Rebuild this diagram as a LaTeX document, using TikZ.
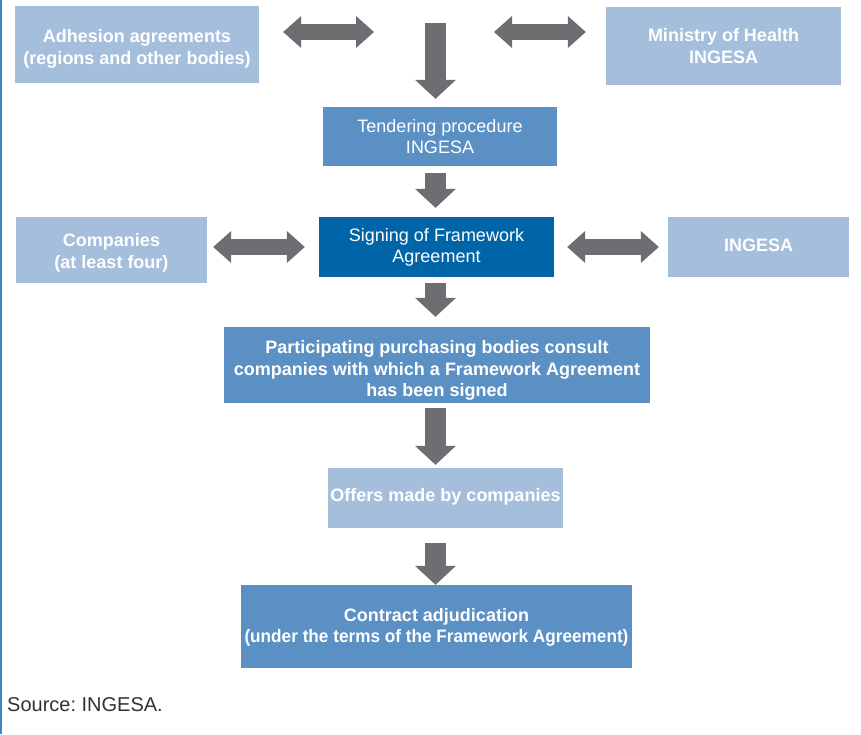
\documentclass[tikz,border=0pt]{standalone}
\usepackage{fontspec}
\setmainfont{Liberation Sans}
\usetikzlibrary{arrows.meta}
\definecolor{lightbox}{HTML}{A4BEDC}
\definecolor{midbox}{HTML}{5B90C4}
\definecolor{darkbox}{HTML}{0064A8}
\definecolor{arrowgray}{HTML}{6D6E71}
\definecolor{rulebl}{HTML}{3A86C8}
\definecolor{srcgray}{HTML}{333333}
\frenchspacing
\begin{document}
\begin{tikzpicture}[x=1pt,y=-1pt,
  box/.style={rectangle, inner sep=0pt},
  lightnode/.style={box, fill=lightbox},
  midnode/.style={box, fill=midbox},
  darknode/.style={box, fill=darkbox},
  boldtext/.style={inner sep=0pt, align=center, text=white,
    font=\fontsize{18}{21.5}\selectfont\bfseries},
  regtext/.style={inner sep=0pt, align=center, text=white,
    font=\fontsize{18}{21.5}\selectfont},
  varrow/.style={draw=arrowgray, line width=21pt,
    -{Triangle[width=41pt,length=19pt,line width=0pt]}},
  harrow/.style={draw=arrowgray, line width=16pt,
    {Triangle[width=32pt,length=18pt,line width=0pt]}-{Triangle[width=32pt,length=18pt,line width=0pt]}}
]
\useasboundingbox (0,0) rectangle (861,734);
\fill[white] (0,0) rectangle (861,734);
\draw[rulebl, line width=2pt] (1,0) -- (1,734);

% boxes, each with its caption centred inside
\node[lightnode, minimum width=244pt, minimum height=77pt,
  label={[boldtext, yshift=-4.5pt]center:{Adhesion agreements\\(regions and other bodies)}}]
  (adh) at (137,44.5) {};
\node[lightnode, minimum width=235pt, minimum height=78pt,
  label={[boldtext]center:{Ministry of Health\\INGESA}}]
  (min) at (723.5,46) {};
\node[midnode, minimum width=234pt, minimum height=59pt,
  label={[regtext]center:{Tendering procedure\\INGESA}}]
  (tend) at (440,136.5) {};
\node[darknode, minimum width=235pt, minimum height=60pt,
  label={[regtext, yshift=-0.5pt]center:{Signing of Framework\\Agreement}}]
  (sign) at (436.5,247) {};
\node[lightnode, minimum width=191pt, minimum height=66pt,
  label={[boldtext, yshift=-3pt]center:{Companies\\(at least four)}}]
  (comp) at (111.5,250) {};
\node[lightnode, minimum width=181pt, minimum height=60pt,
  label={[boldtext, yshift=2pt]center:{INGESA}}]
  (ing) at (758.5,247) {};
\node[midnode, minimum width=426pt, minimum height=76pt,
  label={[boldtext, yshift=-5.5pt]center:{Participating purchasing bodies consult\\companies with which a Framework Agreement\\has been signed}}]
  (part) at (437,365) {};
\node[lightnode, minimum width=235pt, minimum height=60pt,
  label={[boldtext, yshift=1pt]center:{Offers made by companies}}]
  (offer) at (445.5,498) {};
\node[midnode, minimum width=391pt, minimum height=83pt,
  label={[boldtext, yshift=-1pt]center:{Contract adjudication\\\scalebox{0.955}[1]{(under the terms of the Framework Agreement)}}}]
  (contract) at (436.5,626.5) {};

\node[anchor=west, text=srcgray, font=\fontsize{20}{24}\selectfont, inner sep=0pt] (src) at (7,705)
  {Source: INGESA.};

% connectors
\coordinate (ax) at (435.5,0);
\coordinate (hub) at (435.5,32);
\coordinate (top) at (435.5,23);

\draw[harrow, shorten <=24pt, shorten >=61.5pt] (adh.east |- hub) -- (hub);
\draw[harrow, shorten <=58.5pt, shorten >=20pt] (hub) -- (min.west |- hub);
\draw[varrow, shorten >=8pt] (top) -- (ax |- tend.north);

\draw[varrow, shorten <=7pt, shorten >=9pt] (ax |- tend.south) -- (ax |- sign.north);
\draw[harrow, shorten <=6pt, shorten >=14pt] (comp.east |- sign.center) -- (sign.west);
\draw[harrow, shorten <=13pt, shorten >=9pt] (sign.east) -- (ing.west);
\draw[varrow, shorten <=6pt, shorten >=10pt] (ax |- sign.south) -- (ax |- part.north);
\draw[varrow, shorten <=5pt, shorten >=3pt] (ax |- part.south) -- (ax |- offer.north);
\draw[varrow, shorten <=15pt, shorten >=0pt] (ax |- offer.south) -- (ax |- contract.north);
\end{tikzpicture}
\end{document}
